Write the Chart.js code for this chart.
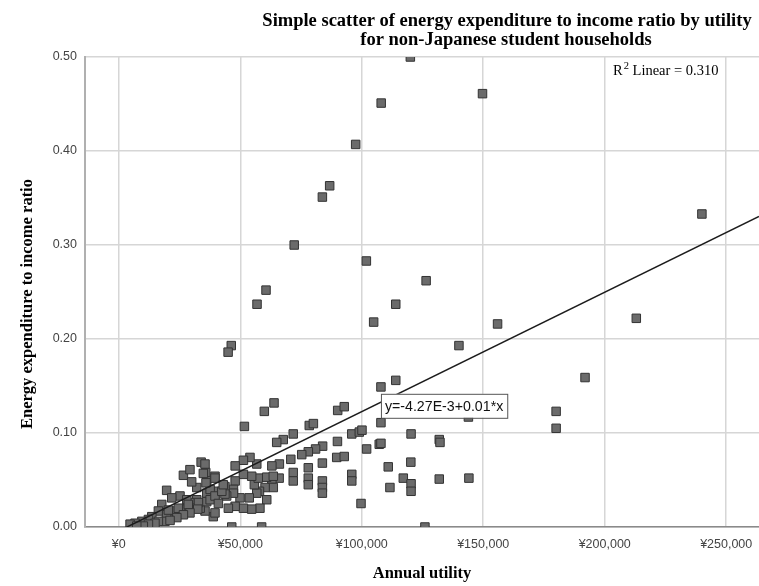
<!DOCTYPE html>
<html>
<head>
<meta charset="utf-8">
<title>Energy expenditure to income ratio by utility</title>
<script src="https://cdn.jsdelivr.net/npm/chart.js@4.4.1/dist/chart.umd.min.js"></script>
<style>
  html, body { margin: 0; padding: 0; background: #fff; }
  #wrap { width: 759px; height: 586px; }
</style>
</head>
<body>
<div id="wrap"><canvas id="scatterChart" width="759" height="586"></canvas></div>
<script>
// annual utility (yen) and energy expenditure / income, one entry per household
const utility = [
  120000, 108000, 149700, 97500, 86800, 83800, 72200, 101900, 126500, 60600,
  56900, 114000, 104900, 46300, 45000, 155900, 140000, 213000, 240000, 191900,
  180000, 180000, 143900, 131900,
  107900, 114000, 107900, 90100, 92800, 78400, 80100, 95900, 99000, 100100,
  120300, 132200, 107200, 107900, 102000, 90000, 83900, 81000, 78000, 75300,
  89700, 92800, 83800, 78000, 78000, 78000, 83800, 83800, 83800, 95900,
  95900, 99700, 110900, 120200, 117100, 120300, 120300, 111600, 131900, 144100,
  126000,
  63900, 59900, 51700, 71800, 67700, 65000, 70800, 66100, 63000, 71800,
  71800, 66000, 63000, 60900, 63600, 63600, 60200, 60900, 57900, 56800,
  55800, 53700, 58100, 54700, 51300, 49900, 47900, 45100, 56800, 54000,
  51300, 47900, 57400, 54700, 51300, 47900, 47200, 47200, 44400, 43700,
  43700, 46500, 58800, 38900,
  33900, 35800, 39600, 36200, 32100, 26600, 29300, 30000, 19700, 39600,
  36200, 32100, 29300, 25200, 21800, 17700, 16300, 13600, 12200, 9500,
  6700, 4650, 28000, 28000, 25200, 22500, 19700, 19000, 16300, 14900,
  12200, 39600, 35500, 33500, 30700, 35500, 34800, 37600, 39600, 36200,
  32800, 28600, 24500, 20400, 32500, 29300, 26600, 23900, 21100, 10100,
  7400, 39600, 35900, 37600, 39600, 42400, 41000, 43000
];
const energyRatio = [
  0.500, 0.451, 0.461, 0.407, 0.363, 0.351, 0.300, 0.283, 0.262, 0.252,
  0.237, 0.237, 0.218, 0.193, 0.186, 0.216, 0.193, 0.222, 0.333, 0.159,
  0.123, 0.105, 0.117, 0.093,
  0.149, 0.156, 0.111, 0.124, 0.128, 0.108, 0.110, 0.099, 0.101, 0.103,
  0.099, 0.090, 0.088, 0.089, 0.083, 0.091, 0.086, 0.083, 0.080, 0.077,
  0.074, 0.075, 0.068, 0.063, 0.052, 0.045, 0.049, 0.042, 0.036, 0.056,
  0.049, 0.025, 0.064, 0.069, 0.052, 0.046, 0.038, 0.042, 0.051, 0.052,
  0.000,
  0.132, 0.123, 0.107, 0.099, 0.093, 0.090, 0.072, 0.067, 0.065, 0.058,
  0.049, 0.052, 0.051, 0.053, 0.054, 0.042, 0.042, 0.029, 0.038, 0.036,
  0.045, 0.031, 0.020, 0.019, 0.020, 0.031, 0.022, 0.020, 0.067, 0.074,
  0.071, 0.065, 0.052, 0.054, 0.056, 0.049, 0.040, 0.036, 0.033, 0.043,
  0.035, 0.000, 0.000, 0.011,
  0.069, 0.058, 0.054, 0.049, 0.042, 0.055, 0.061, 0.048, 0.039, 0.038,
  0.036, 0.029, 0.026, 0.033, 0.031, 0.024, 0.017, 0.011, 0.008, 0.006,
  0.004, 0.003, 0.029, 0.020, 0.019, 0.017, 0.013, 0.006, 0.006, 0.004,
  0.003, 0.015, 0.017, 0.020, 0.020, 0.067, 0.057, 0.040, 0.031, 0.027,
  0.026, 0.024, 0.020, 0.018, 0.019, 0.015, 0.013, 0.010, 0.007, 0.001,
  0.001, 0.052, 0.047, 0.029, 0.033, 0.038, 0.025, 0.045
];

const xTicks = [0, 50000, 100000, 150000, 200000, 250000];
const yTicks = [0, 0.1, 0.2, 0.3, 0.4, 0.5];
const xRange = [-13900, 263500];
const yRange = [0, 0.5];

// fitted line as reported, slope per yen
const fitIntercept = -0.00427;
const fitSlope = 1.27e-6;
const fitLabel = "y=-4.27E-3+0.01*x";
const fitLabelAt = [107900, 0.1417];
const r2Text = ["R", "2", " Linear = 0.310"];

const titleLines = [
  "Simple scatter of energy expenditure to income ratio by utility",
  "for non-Japanese student households"
];
const yTitle = "Energy expenditure to income ratio";

const points = utility.map((u, i) => ({ x: u, y: energyRatio[i] }));
const fitPoints = xRange.map(x => ({ x: x, y: fitIntercept + fitSlope * x }));

const serif = "'Liberation Serif', 'Times New Roman', serif";
const sans = "'Liberation Sans', Arial, sans-serif";

const extras = {
  id: "extras",
  afterDraw(chart) {
    const ctx = chart.ctx;
    const area = chart.chartArea;
    ctx.save();

    // title, two lines
    ctx.fillStyle = "#000";
    ctx.font = "bold 18.5px " + serif;
    ctx.textAlign = "center";
    ctx.textBaseline = "middle";
    ctx.fillText(titleLines[0], 507, 21);
    ctx.fillText(titleLines[1], 506, 40);

    // y axis title, sits a little below the plot centre like the original
    ctx.save();
    ctx.translate(28, 304);
    ctx.rotate(-Math.PI / 2);
    ctx.font = "bold 16.5px " + serif;
    ctx.fillText(yTitle, 0, 0);
    ctx.restore();

    // R squared note
    ctx.textAlign = "left";
    ctx.textBaseline = "alphabetic";
    let x = area.right - 146;
    const base = area.top + 18;
    ctx.font = "14.5px " + serif;
    ctx.fillText(r2Text[0], x, base);
    x += ctx.measureText(r2Text[0]).width + 1;
    ctx.font = "10.5px " + serif;
    ctx.fillText(r2Text[1], x, base - 6);
    x += ctx.measureText(r2Text[1]).width;
    ctx.font = "14.5px " + serif;
    ctx.fillText(r2Text[2], x, base);

    // equation box
    const bx = chart.scales.x.getPixelForValue(fitLabelAt[0]);
    const by = chart.scales.y.getPixelForValue(fitLabelAt[1]);
    ctx.font = "14.2px " + sans;
    const w = ctx.measureText(fitLabel).width + 8;
    ctx.fillStyle = "#fff";
    ctx.fillRect(bx, by, w, 24);
    ctx.strokeStyle = "#555";
    ctx.lineWidth = 1;
    ctx.strokeRect(bx + 0.5, by + 0.5, w, 24);
    ctx.fillStyle = "#111";
    ctx.textBaseline = "middle";
    ctx.fillText(fitLabel, bx + 4, by + 13);

    ctx.restore();
  }
};

new Chart(document.getElementById("scatterChart"), {
  type: "scatter",
  data: {
    datasets: [
      {
        type: "line",
        data: fitPoints,
        borderColor: "#1c1c1c",
        borderWidth: 1.5,
        pointRadius: 0,
        order: 0
      },
      {
        data: points,
        pointStyle: "rect",
        radius: 6,
        backgroundColor: "#6b6b6b",
        borderColor: "#333",
        borderWidth: 1,
        order: 1
      }
    ]
  },
  options: {
    responsive: false,
    devicePixelRatio: 1,
    animation: false,
    events: [],
    layout: { autoPadding: false, padding: { top: 57, left: 0, right: 0, bottom: 0 } },
    plugins: {
      legend: { display: false },
      tooltip: { enabled: false }
    },
    scales: {
      x: {
        type: "linear",
        min: xRange[0],
        max: xRange[1],
        afterBuildTicks: s => { s.ticks = xTicks.map(v => ({ value: v })); },
        afterFit: s => {
          s.height = 59;
          s.paddingLeft = 0;
          s.paddingRight = 0;
        },
        grid: { color: "#d6d6d6", lineWidth: 1.5, drawTicks: false },
        border: { color: "#8a8a8a", width: 1.5 },
        ticks: {
          padding: 10,
          color: "#444",
          maxRotation: 0,
          font: { family: sans, size: 12.5 },
          callback: v => "¥" + v.toLocaleString("en-US")
        },
        title: {
          display: true,
          text: "Annual utility",
          color: "#000",
          font: { family: serif, size: 16.5, weight: "bold" },
          padding: { top: 0, bottom: 2 }
        }
      },
      y: {
        type: "linear",
        min: yRange[0],
        max: yRange[1],
        afterBuildTicks: s => { s.ticks = yTicks.map(v => ({ value: v })); },
        afterFit: s => { s.width = 85; },
        grid: { color: "#d6d6d6", lineWidth: 1.5, drawTicks: false },
        border: { color: "#b0b0b0", width: 2 },
        ticks: {
          padding: 8,
          color: "#444",
          font: { family: sans, size: 12.5 },
          callback: v => v.toFixed(2)
        },
        title: { display: false }
      }
    }
  },
  plugins: [extras]
});
</script>
</body>
</html>
